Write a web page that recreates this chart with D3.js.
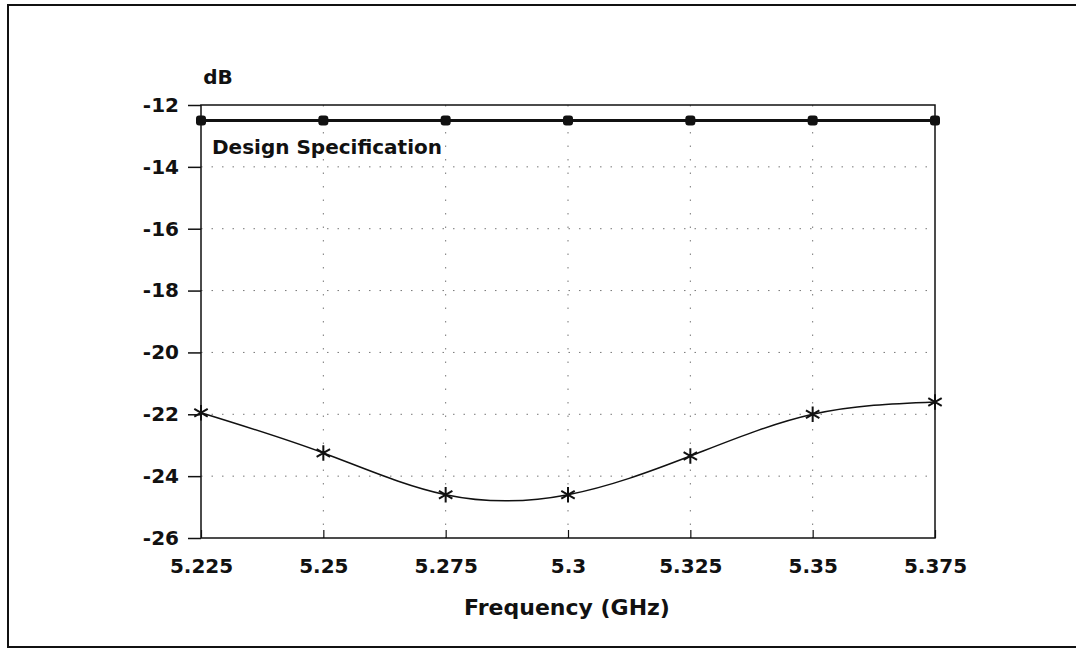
<!DOCTYPE html>
<html>
<head>
<meta charset="utf-8">
<script src="https://cdn.jsdelivr.net/npm/d3@7"></script>
<style>
  body { margin: 0; background: #fff; }
  text { font-family: "DejaVu Sans", Verdana, sans-serif; font-weight: bold; fill: #111; }
</style>
</head>
<body>
<svg id="chart"></svg>
<script>
/* données */
const frequencies = [5.225, 5.25, 5.275, 5.3, 5.325, 5.35, 5.375]
const specValues = [-12.5, -12.5, -12.5, -12.5, -12.5, -12.5, -12.5]
const measuredValues = [-21.95, -23.25, -24.6, -24.6, -23.35, -22.0, -21.6]
const yTicks = [-12, -14, -16, -18, -20, -22, -24, -26]
const xTickLabels = ['5.225', '5.25', '5.275', '5.3', '5.325', '5.35', '5.375']

const width = 1076, height = 651
const margin = {top: 105, right: 141, bottom: 113, left: 201}

const svg = d3.select('#chart')
              .attr('width', width)
              .attr('height', height)

/* cadre extérieur */
svg.append('rect')
   .attr('x', 8).attr('y', 5)
   .attr('width', width + 10).attr('height', 642)
   .attr('fill', 'none')
   .attr('stroke', '#111')
   .attr('stroke-width', 2)

const xScale = d3.scaleLinear()
                 .domain([5.225, 5.375])
                 .range([margin.left, width - margin.right])

const yScale = d3.scaleLinear()
                 .domain([-26, -12])
                 .range([height - margin.bottom, margin.top])

/* grille pointillée */
svg.append('g')
   .selectAll('line')
   .data(yTicks.slice(1, -1))
   .enter()
   .append('line')
   .attr('x1', margin.left).attr('x2', width - margin.right)
   .attr('y1', d => yScale(d)).attr('y2', d => yScale(d))
   .attr('stroke', '#777')
   .attr('stroke-width', 1)
   .attr('stroke-dasharray', '1.5,9')

svg.append('g')
   .selectAll('line')
   .data(frequencies.slice(1, -1))
   .enter()
   .append('line')
   .attr('y1', margin.top).attr('y2', height - margin.bottom)
   .attr('x1', d => xScale(d)).attr('x2', d => xScale(d))
   .attr('stroke', '#777')
   .attr('stroke-width', 1)
   .attr('stroke-dasharray', '1.5,12')

/* axes */
const yAxis = d3.axisLeft(yScale)
                .tickValues(yTicks)
                .tickSize(13)
                .tickPadding(9)
                .tickFormat(d => d)

const xAxis = d3.axisBottom(xScale)
                .tickValues(frequencies)
                .tickSize(-8)
                .tickPadding(21)
                .tickFormat((d, i) => xTickLabels[i])

const gy = svg.append('g')
              .attr('transform', 'translate(' + margin.left + ',0)')
              .call(yAxis)
gy.select('.domain').remove()
gy.selectAll('line').attr('stroke', '#111').attr('stroke-width', 1.5)
gy.selectAll('text').style('font-size', '20px').attr('fill', '#111')

const gx = svg.append('g')
              .attr('transform', 'translate(0,' + (height - margin.bottom) + ')')
              .call(xAxis)
gx.select('.domain').remove()
gx.selectAll('line').attr('stroke', '#111').attr('stroke-width', 1.2)
gx.selectAll('text').style('font-size', '20px').attr('fill', '#111')

/* cadre du graphique */
svg.append('rect')
   .attr('x', margin.left).attr('y', margin.top)
   .attr('width', width - margin.left - margin.right)
   .attr('height', height - margin.top - margin.bottom)
   .attr('fill', 'none')
   .attr('stroke', '#111')
   .attr('stroke-width', 1.5)

/* spécification */
const specData = frequencies.map((f, i) => [f, specValues[i]])
svg.append('path')
   .datum(specData)
   .attr('fill', 'none')
   .attr('stroke', '#111')
   .attr('stroke-width', 3)
   .attr('d', d3.line().x(d => xScale(d[0])).y(d => yScale(d[1])))

svg.append('g')
   .selectAll('rect')
   .data(specData)
   .enter()
   .append('rect')
   .attr('x', d => xScale(d[0]) - 5)
   .attr('y', d => yScale(d[1]) - 5)
   .attr('width', 10).attr('height', 10)
   .attr('rx', 3)
   .attr('fill', '#111')

/* courbe mesurée */
const measData = frequencies.map((f, i) => [f, measuredValues[i]])
svg.append('path')
   .datum(measData)
   .attr('fill', 'none')
   .attr('stroke', '#111')
   .attr('stroke-width', 1.5)
   .attr('d', d3.line().curve(d3.curveNatural).x(d => xScale(d[0])).y(d => yScale(d[1])))

const star = d3.symbol().type(d3.symbolAsterisk).size(170)
svg.append('g')
   .selectAll('path')
   .data(measData)
   .enter()
   .append('path')
   .attr('d', star)
   .attr('transform', d => 'translate(' + xScale(d[0]) + ',' + yScale(d[1]) + ')')
   .attr('fill', 'none')
   .attr('stroke', '#111')
   .attr('stroke-width', 2)

/* textes */
svg.append('text')
   .attr('x', 212).attr('y', 154)
   .style('font-size', '20px')
   .text('Design Specification')

svg.append('text')
   .attr('x', 218).attr('y', 84)
   .attr('text-anchor', 'middle')
   .style('font-size', '20px')
   .text('dB')

svg.append('text')
   .attr('x', 567).attr('y', 615)
   .attr('text-anchor', 'middle')
   .style('font-size', '22px')
   .text('Frequency (GHz)')
</script>
</body>
</html>
